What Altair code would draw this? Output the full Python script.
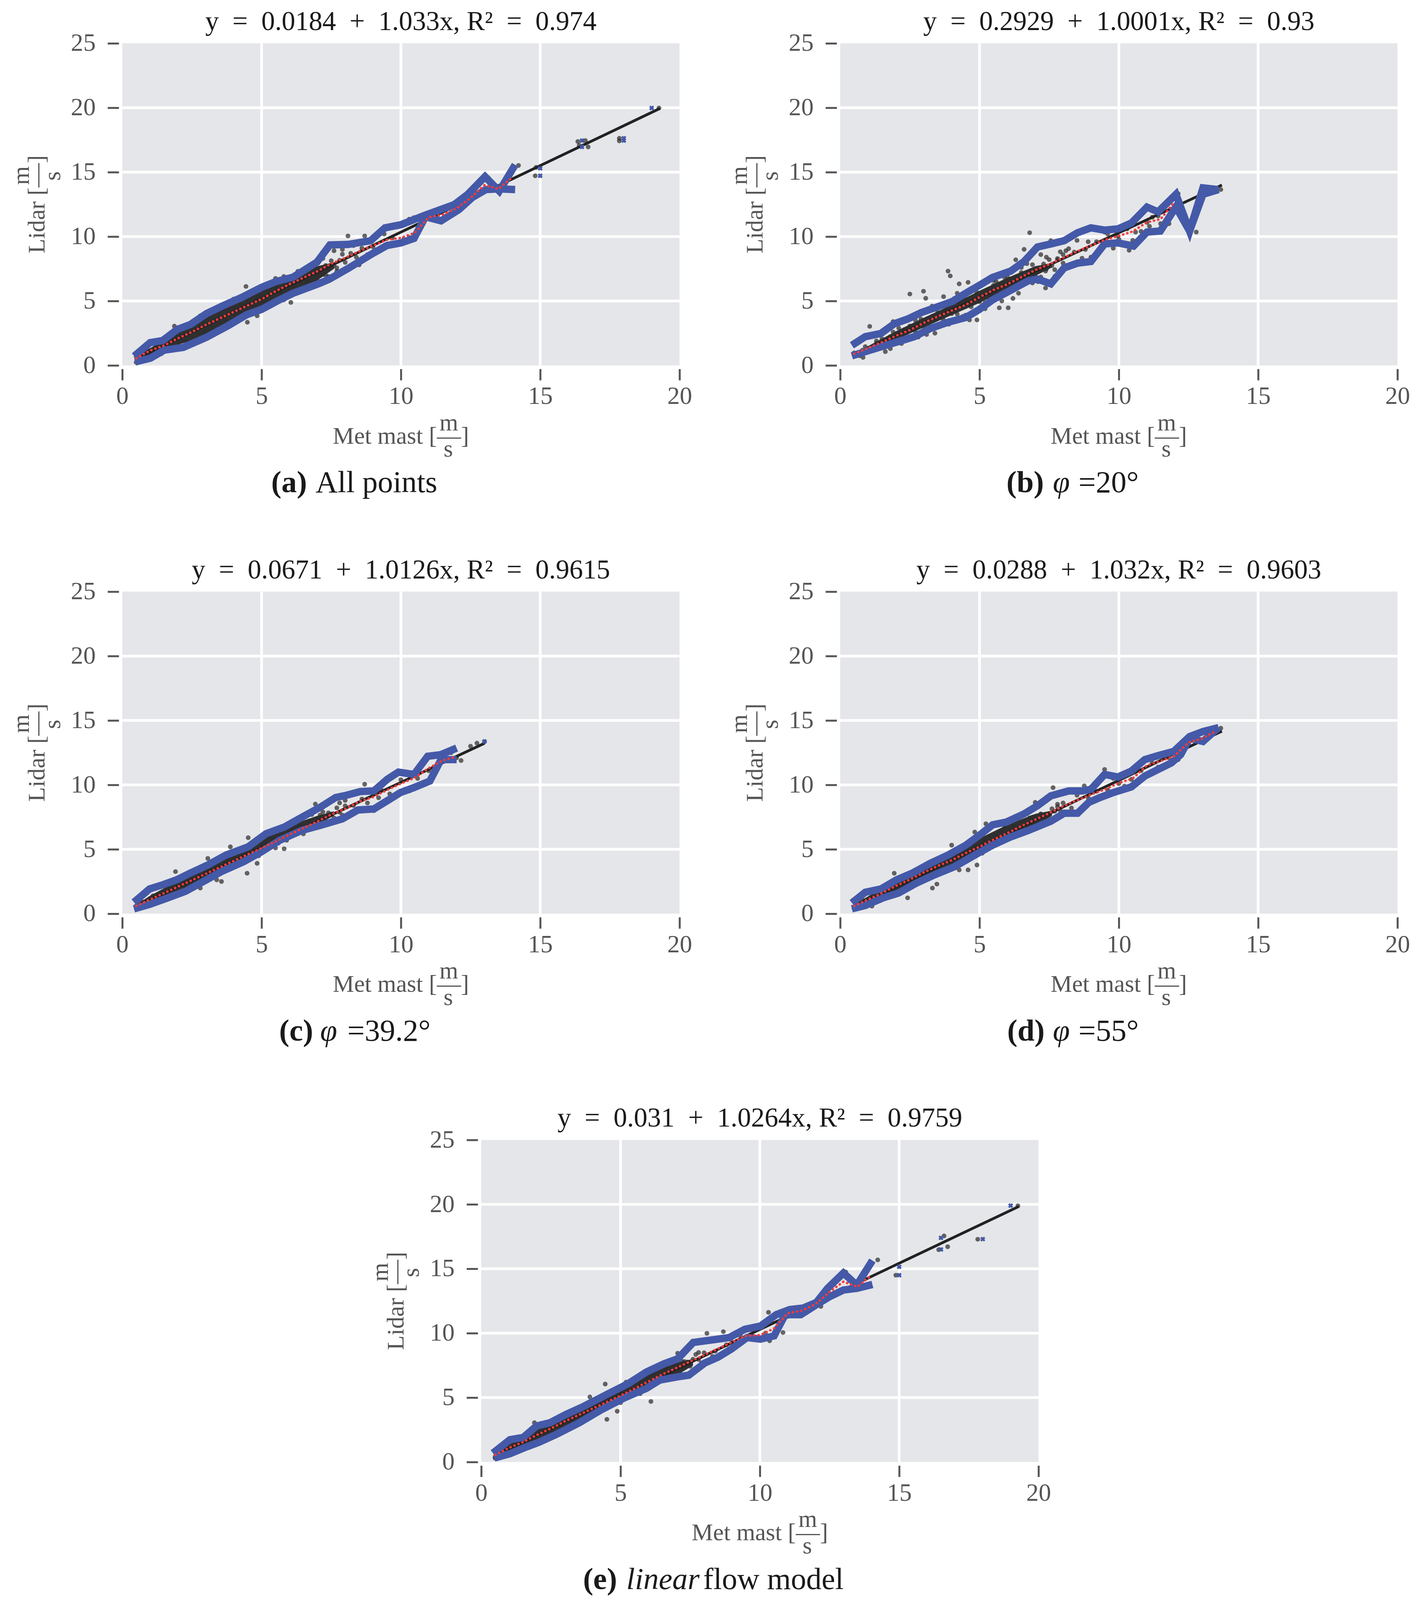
import altair as alt
import pandas as pd

FONT = "Liberation Serif"
BLUE = "#4459a8"
RED = "#f23b3b"
PTC = "#2e2e2e"
CORE_C = "#262626"
TXT = "#1a1a1a"
AX = "#555555"
W, H = 1436, 830

NB = "\u00a0"
EN = "\u2002"
ZW = "\u200b"
X_TITLE = ["m" + NB + "\u2009" + ZW, "Met mast [\u2014]", "s" + NB + NB + "\u2006" + ZW]
Y_TITLE = ["m" + NB + "\u2009" + ZW, "Lidar [\u2014]", "s" + NB + NB + "\u2006" + ZW]

GRID_X = [5, 10, 15]
GRID_Y = [5, 10, 15, 20]

# ---------------- shared x positions ----------------
CORE_X = [0.5, 0.6, 0.7, 0.8, 0.9, 1.0, 1.1, 1.2, 1.3, 1.4, 1.5, 1.6, 1.7, 1.8, 1.9,
          2.0, 2.1, 2.2, 2.3, 2.4, 2.5, 2.6, 2.7, 2.8, 2.9, 3.0, 3.1, 3.2, 3.3, 3.4,
          3.5, 3.6, 3.7, 3.8, 3.9, 4.0, 4.1, 4.2, 4.3, 4.4, 4.5, 4.6, 4.7, 4.8, 4.9,
          5.0, 5.1, 5.2, 5.3, 5.4, 5.5, 5.6, 5.7, 5.8, 5.9, 6.0, 6.1, 6.2, 6.3, 6.4,
          6.5, 6.6, 6.7, 6.8, 6.9, 7.0, 7.1, 7.2, 7.3, 7.4, 7.5, 7.6, 7.7, 7.8, 7.9, 8.0]
BIN_X = [0.5, 1.0, 1.5, 2.0, 2.5, 3.0, 3.5, 4.0, 4.5, 5.0, 5.5, 6.0, 6.5, 7.0,
         7.5, 8.0, 8.5, 9.0, 9.5, 10.0, 10.5, 11.0, 11.5, 12.0, 12.5, 13.0, 13.5, 14.0]
ENV_X = [0.5, 1.0, 2.0, 3.0, 4.0, 5.0, 6.0, 7.0, 7.6]

# ---------------- panel (a) ----------------
A_TITLE = "y" + EN + "=" + EN + "0.0184" + EN + "+" + EN + "1.033x, R\u00b2" + EN + "=" + EN + "0.974"
A_CORE_Y = [0.69, 0.58, 0.56, 0.88, 1.16, 0.92, 1.15, 1.05, 1.47, 1.38, 1.77, 1.59, 1.53, 1.93, 2.26,
            1.90, 2.19, 1.99, 2.54, 2.38, 2.82, 2.62, 2.55, 2.96, 3.31, 2.94, 3.22, 3.02, 3.58, 3.41,
            3.85, 3.66, 3.58, 3.99, 4.35, 3.97, 4.25, 4.06, 4.61, 4.44, 4.92, 4.67, 4.57, 5.04, 5.41,
            4.98, 5.29, 5.06, 5.66, 5.46, 5.97, 5.70, 5.59, 6.07, 6.47, 6.00, 6.32, 6.06, 6.71, 6.48,
            7.03, 6.74, 6.58, 7.11, 7.55, 7.00, 7.35, 7.06, 7.76, 7.50, 8.12, 7.75, 7.57, 8.16, 8.63, 8.00]
A_OUT_X = [14.82, 14.85, 14.22, 16.35, 16.4, 16.62, 16.72, 17.84, 17.84, 19.26, 13.13, 12.24, 12.0,
           11.6, 11.2, 10.47, 10.3, 10.3, 10.3, 10.1, 9.7, 9.4, 8.7, 8.1, 8.6, 8.3, 8.8, 9.0, 8.4,
           8.2, 7.9, 7.6, 7.7, 7.3, 7.0, 7.4, 6.6, 6.9, 6.3, 6.05, 5.8, 5.5, 5.8, 4.84, 4.49, 4.44,
           4.0, 3.8, 3.5, 3.2, 2.8, 2.6, 2.3, 1.87, 1.4, 0.5, 0.5, 1.2, 3.0, 5.2, 5.6, 6.6, 7.2, 8.5]
A_OUT_Y = [14.72, 15.37, 15.52, 17.38, 17.08, 17.45, 16.96, 17.63, 17.43, 19.98, 14.57, 12.59, 12.2,
           11.4, 11.65, 11.47, 11.35, 9.93, 9.68, 9.8, 9.9, 10.2, 10.05, 10.05, 9.1, 9.3, 8.6, 9.2, 8.4,
           8.7, 9.0, 8.9, 7.3, 7.0, 6.6, 6.9, 6.35, 7.95, 7.3, 4.89, 5.09, 6.75, 6.9, 3.85, 3.35, 6.13,
           5.15, 4.7, 2.9, 2.6, 3.85, 1.95, 1.9, 3.05, 0.9, 0.25, 0.9, 1.6, 2.3, 4.6, 5.0, 7.6, 8.3, 7.8]
A_ENV_LO = [0.45, 0.75, 1.6, 2.3, 3.45, 4.45, 5.6, 6.6, 7.5]
A_ENV_HI = [0.7, 1.35, 2.6, 3.9, 4.9, 5.95, 6.7, 7.7, 8.0]
A_UP_X = [0.43, 1.0, 1.45, 1.98, 2.45, 3.02, 3.58, 4.28, 5.0, 5.53, 6.13, 6.99, 7.45, 8.1, 8.91,
          9.43, 10.0, 10.88, 11.92, 12.4, 13.02, 13.53, 14.1]
A_UP_Y = [0.72, 1.77, 1.93, 2.8, 3.18, 4.02, 4.6, 5.27, 6.06, 6.52, 6.85, 8.02, 9.35, 9.39, 9.68,
          10.68, 10.92, 11.67, 12.49, 13.28, 14.65, 13.53, 15.57]
A_LO_X = [0.46, 1.01, 1.5, 2.19, 3.02, 3.81, 4.46, 5.0, 5.58, 6.13, 7.06, 7.42, 8.1, 8.98, 9.5,
          10.0, 10.47, 10.88, 11.44, 12.08, 12.56, 13.05, 13.53, 14.1]
A_LO_Y = [0.27, 0.56, 1.18, 1.4, 2.18, 3.1, 3.93, 4.35, 5.02, 5.6, 6.35, 6.68, 7.52, 8.68, 9.31,
          9.51, 9.86, 11.54, 11.22, 12.09, 13.03, 13.65, 13.7, 13.65]
A_RED = [0.55, 1.15, 1.55, 2.1, 2.6, 3.15, 3.65, 4.15, 4.65, 5.15, 5.75, 6.3, 6.8, 7.3, 7.9, 8.35,
         8.85, 9.3, 9.75, 9.9, 10.3, 11.5, 11.7, 12.2, 13.0, 14.0, 13.7, 14.6]
A_REG_X = [0.5, 19.3]
A_REG_Y = [0.535, 19.95]
A_MK_X = [15.0, 15.0, 16.5, 16.5, 18.0, 18.0, 19.0]
A_MK_Y = [15.3, 14.72, 17.45, 16.96, 17.63, 17.45, 19.98]

# ---------------- panel (b) ----------------
B_TITLE = "y" + EN + "=" + EN + "0.2929" + EN + "+" + EN + "1.0001x, R\u00b2" + EN + "=" + EN + "0.93"
B_CORE_Y = [0.97, 0.83, 0.75, 1.18, 1.46, 1.14, 1.39, 1.22, 1.71, 1.60, 2.06, 1.80, 1.63, 2.23, 2.59,
            2.07, 2.39, 2.09, 2.77, 2.55, 3.06, 2.80, 2.63, 3.23, 3.59, 3.02, 3.39, 2.99, 3.81, 3.53,
            4.12, 3.78, 3.55, 4.25, 4.69, 4.02, 4.39, 3.99, 4.81, 4.53, 5.12, 4.78, 4.55, 5.25, 5.69,
            4.94, 5.39, 4.86, 5.87, 5.48, 6.21, 5.75, 5.43, 6.30, 6.82, 5.94, 6.39, 5.86, 6.87, 6.48,
            7.21, 6.75, 6.43, 7.30, 7.82, 6.94, 7.39, 6.86, 7.87, 7.48, 8.21, 7.75, 7.43, 8.30, 8.82, 7.94]
B_OUT_X = [3.87, 3.95, 2.5, 2.99, 3.07, 1.06, 1.62, 0.82, 6.8, 6.6, 7.37, 7.37, 6.03, 5.71, 4.91,
           4.64, 12.78, 13.26, 13.66, 13.5, 11.01, 10.37, 9.49, 8.68, 8.2, 7.56, 12.13, 11.41, 10.6,
           11.1, 9.97, 4.59, 4.27, 3.71, 8.0, 8.4, 8.8, 9.2, 9.0, 7.8, 7.2, 7.0, 6.9, 6.5, 6.3, 6.0,
           5.6, 5.3, 5.0, 4.4, 3.4, 2.8, 2.2, 1.9, 1.5, 2.4, 3.3, 4.2, 6.2, 7.8, 8.5, 9.3, 10.0, 10.8,
           11.5, 11.3, 10.4,
           1.3, 1.8, 2.1, 2.7, 3.1, 3.6, 3.9, 4.1, 4.5, 4.8, 5.2, 5.5, 5.8, 6.1, 6.4, 6.7, 7.1, 7.4,
           7.7, 8.1, 8.3, 8.9, 9.1, 9.6, 9.8, 10.3, 10.5, 11.2, 11.8, 12.2]
B_OUT_Y = [7.32, 6.95, 5.54, 5.76, 5.21, 3.03, 1.07, 0.62, 10.3, 9.01, 7.32, 6.01, 4.47, 4.47, 3.53,
           3.53, 10.35, 13.78, 13.65, 13.5, 11.1, 8.94, 10.35, 8.32, 9.06, 9.68, 13.33, 11.6, 10.35,
           10.8, 10.05, 6.45, 6.33, 5.34, 8.6, 8.8, 9.0, 9.6, 8.4, 8.2, 8.6, 7.5, 6.4, 7.6, 8.2, 6.9,
           6.5, 6.7, 4.3, 3.8, 2.5, 2.2, 1.7, 3.4, 2.5, 3.5, 4.6, 5.6, 5.2, 7.1, 9.7, 8.9, 9.8, 10.4,
           11.0, 10.4, 9.2,
           1.9, 1.3, 2.9, 3.5, 2.4, 4.6, 3.2, 5.2, 3.9, 5.9, 4.4, 6.6, 5.0, 7.2, 5.6, 7.9, 6.5, 8.4,
           6.9, 8.9, 7.7, 9.6, 8.5, 10.2, 9.1, 10.6, 9.7, 11.5, 11.0, 12.4]
B_ENV_LO = [0.8, 1.05, 2.0, 2.95, 3.9, 4.85, 5.9, 6.95, 7.6]
B_ENV_HI = [1.0, 1.5, 2.65, 3.7, 4.7, 5.8, 6.8, 7.7, 7.95]
B_UP_X = [0.42, 0.9, 1.46, 1.94, 2.42, 2.91, 3.39, 4.03, 4.59, 4.99, 5.47, 6.12, 6.6, 7.08, 7.56,
          8.04, 8.52, 9.0, 9.49, 9.97, 10.45, 11.01, 11.41, 12.05, 12.54, 13.02, 13.58]
B_UP_Y = [1.56, 2.23, 2.48, 3.23, 3.6, 4.1, 4.47, 4.97, 5.71, 6.21, 6.83, 7.32, 8.07, 9.19, 9.43,
          9.68, 10.3, 10.68, 10.5, 10.6, 11.05, 12.29, 11.92, 13.28, 10.43, 13.78, 13.65]
B_LO_X = [0.42, 0.98, 1.54, 2.1, 2.66, 3.23, 3.87, 4.51, 4.99, 5.47, 6.12, 6.76, 7.08, 7.56, 8.04,
          8.52, 9.0, 9.49, 9.97, 10.53, 11.01, 11.49, 12.05, 12.54, 13.02, 13.58]
B_LO_Y = [0.74, 1.12, 1.49, 1.86, 2.23, 2.86, 3.35, 3.72, 4.34, 5.09, 5.83, 6.58, 6.7, 6.33, 7.57,
          7.94, 8.07, 9.43, 9.51, 9.26, 10.35, 10.43, 12.3, 10.43, 13.28, 13.65]
B_RED = [0.9, 1.35, 1.8, 2.3, 2.75, 3.3, 3.8, 4.25, 4.7, 5.3, 5.85, 6.3, 6.85, 7.4, 7.85, 8.35,
         8.85, 9.3, 9.75, 10.05, 10.4, 11.1, 11.35, 12.7]
B_REG_X = [0.5, 13.7]
B_REG_Y = [0.79, 14.0]
B_MK_X = []
B_MK_Y = []

# ---------------- panel (c) ----------------
C_TITLE = "y" + EN + "=" + EN + "0.0671" + EN + "+" + EN + "1.0126x, R\u00b2" + EN + "=" + EN + "0.9615"
C_CORE_Y = [0.61, 0.53, 0.95, 0.84, 0.78, 1.18, 1.39, 1.18, 1.38, 1.63, 1.64, 1.47, 2.04, 1.83, 1.71,
            2.23, 2.49, 2.15, 2.40, 2.70, 2.65, 2.48, 3.05, 2.84, 2.72, 3.25, 3.51, 3.16, 3.41, 3.71,
            3.66, 3.49, 4.06, 3.86, 3.74, 4.26, 4.52, 4.17, 4.42, 4.72, 4.68, 4.49, 5.11, 4.86, 4.72,
            5.29, 5.56, 5.16, 5.43, 5.76, 5.70, 5.48, 6.14, 5.87, 5.70, 6.31, 6.60, 6.17, 6.45, 6.79,
            6.72, 6.45, 7.19, 6.87, 6.67, 7.35, 7.66, 7.16, 7.46, 7.83, 7.73, 7.43, 8.22, 7.88, 7.65, 8.37]
C_OUT_X = [4.52, 3.88, 6.93, 8.7, 9.03, 10.31, 12.16, 4.48, 4.84, 3.56, 2.8, 1.91, 0.98, 12.73,
           9.91, 5.81, 3.07, 3.39, 8.0, 8.3, 8.6, 8.8, 9.3, 9.6, 10.0, 10.6, 11.0, 11.5, 12.0, 7.5,
           7.8, 7.2, 6.5, 6.8, 6.1, 5.5, 5.3, 4.9, 4.2, 3.2, 2.5, 2.2, 1.6, 13.0, 11.8, 10.4, 9.2, 12.5]
C_OUT_Y = [5.9, 5.19, 8.51, 10.05, 8.0, 9.53, 11.89, 3.14, 3.91, 2.5, 1.99, 3.27, 1.99, 13.24,
           11.02, 5.04, 4.29, 2.63, 8.8, 8.4, 8.9, 8.6, 9.6, 9.3, 10.4, 10.5, 11.1, 11.8, 12.1, 7.1,
           8.6, 7.9, 6.2, 7.7, 6.9, 5.1, 6.1, 4.5, 4.8, 2.9, 2.2, 2.9, 1.2, 13.35, 12.5, 10.9, 9.0, 13.0]
C_ENV_LO = [0.5, 0.85, 1.75, 2.7, 3.8, 4.9, 6.0, 6.95, 7.6]
C_ENV_HI = [0.7, 1.4, 2.55, 3.6, 4.7, 5.8, 6.85, 7.6, 7.95]
C_UP_X = [0.42, 0.98, 1.46, 1.95, 2.43, 3.07, 3.72, 4.52, 5.16, 5.81, 6.45, 7.1, 7.66, 8.06, 8.54,
          9.03, 9.51, 9.91, 10.47, 10.96, 11.44, 12.0]
C_UP_Y = [0.89, 1.92, 2.25, 2.63, 3.14, 3.78, 4.55, 5.19, 6.21, 6.72, 7.49, 8.26, 9.02, 9.2, 9.48,
          9.53, 10.43, 10.99, 10.81, 12.22, 12.35, 12.86]
C_LO_X = [0.42, 0.98, 1.63, 2.27, 2.91, 3.56, 4.36, 5.0, 5.65, 6.45, 7.1, 7.9, 8.46, 9.03, 9.51,
          9.99, 10.47, 11.04, 11.44, 12.0]
C_LO_Y = [0.38, 0.72, 1.23, 1.74, 2.5, 3.27, 4.04, 4.81, 5.7, 6.47, 6.85, 7.36, 8.05, 8.13, 8.77,
          9.41, 9.79, 10.3, 11.96, 11.96]
C_RED = [0.6, 1.1, 1.6, 2.1, 2.6, 3.1, 3.6, 4.1, 4.6, 5.1, 5.6, 6.15, 6.65, 7.15, 7.7, 8.15, 8.7,
         9.05, 9.6, 10.1, 10.55, 11.3, 11.9, 12.2]
C_REG_X = [0.5, 13.0]
C_REG_Y = [0.574, 13.23]
C_MK_X = [13.0]
C_MK_Y = [13.37]

# ---------------- panel (d) ----------------
D_TITLE = "y" + EN + "=" + EN + "0.0288" + EN + "+" + EN + "1.032x, R\u00b2" + EN + "=" + EN + "0.9603"
D_CORE_Y = [0.38, 0.79, 0.74, 1.07, 0.88, 0.85, 1.23, 1.42, 1.26, 1.49, 1.36, 1.86, 1.76, 2.16, 1.88,
            1.81, 2.30, 2.52, 2.24, 2.54, 2.36, 2.91, 2.80, 3.22, 2.90, 2.83, 3.33, 3.55, 3.28, 3.57,
            3.39, 3.94, 3.83, 4.25, 3.93, 3.86, 4.36, 4.58, 4.31, 4.60, 4.40, 5.00, 4.86, 5.31, 4.96,
            4.86, 5.40, 5.64, 5.32, 5.63, 5.41, 6.05, 5.89, 6.38, 5.98, 5.86, 6.44, 6.69, 6.34, 6.67,
            6.41, 7.10, 6.91, 7.44, 6.99, 6.86, 7.49, 7.75, 7.35, 7.71, 7.42, 8.15, 7.95, 8.50, 8.01, 7.87]
D_OUT_X = [9.49, 8.76, 7.64, 7.0, 5.23, 4.83, 4.91, 4.59, 4.27, 3.47, 3.31, 2.42, 1.94, 1.14, 12.13,
           13.66, 11.41, 10.45, 4.0, 8.0, 8.3, 8.5, 8.9, 9.2, 9.6, 10.0, 10.8, 11.2, 11.8, 12.5, 13.2,
           7.4, 7.8, 7.2, 6.6, 6.9, 6.2, 5.6, 5.9, 5.1, 4.4, 3.6, 3.0, 2.6, 2.0, 1.5, 10.2, 9.8]
D_OUT_Y = [11.2, 9.92, 9.79, 8.64, 6.98, 6.34, 3.78, 3.4, 3.4, 2.3, 1.99, 1.23, 3.14, 0.59, 11.96,
           14.4, 11.38, 10.43, 5.32, 8.6, 8.2, 9.2, 9.0, 9.5, 9.6, 10.1, 11.1, 11.7, 12.1, 13.1, 13.7,
           7.3, 8.3, 7.7, 6.4, 7.5, 6.9, 5.5, 6.8, 4.7, 4.9, 3.4, 3.5, 2.3, 2.5, 1.2, 9.9, 10.5]
D_ENV_LO = [0.45, 0.85, 1.7, 2.85, 3.75, 4.9, 5.95, 6.95, 7.6]
D_ENV_HI = [0.7, 1.35, 2.5, 3.6, 4.65, 5.85, 6.9, 7.75, 8.0]
D_UP_X = [0.42, 0.9, 1.46, 2.02, 2.58, 3.23, 3.87, 4.51, 4.99, 5.47, 5.96, 6.6, 7.08, 7.56, 8.2,
          8.68, 9.0, 9.49, 9.97, 10.45, 10.93, 11.41, 11.97, 12.54, 13.02, 13.58]
D_UP_Y = [0.84, 1.66, 1.92, 2.63, 3.14, 3.91, 4.55, 5.32, 6.08, 6.9, 7.11, 7.75, 8.38, 9.15, 9.53,
          9.53, 9.66, 10.81, 10.61, 11.07, 11.96, 12.27, 12.6, 13.75, 14.14, 14.45]
D_LO_X = [0.42, 0.9, 1.54, 2.1, 2.74, 3.39, 4.11, 4.83, 5.47, 6.12, 6.76, 7.56, 8.04, 8.52, 8.92,
          9.33, 9.81, 10.45, 10.93, 11.41, 11.89, 12.22, 12.54, 13.02, 13.58]
D_LO_Y = [0.38, 0.64, 1.23, 1.61, 2.38, 3.02, 3.66, 4.55, 5.32, 5.96, 6.47, 7.18, 7.8, 7.8, 8.64,
          9.02, 9.41, 9.84, 10.68, 11.2, 11.71, 12.35, 13.62, 13.37, 14.45]
D_RED = [0.6, 1.1, 1.6, 2.15, 2.65, 3.2, 3.7, 4.15, 4.7, 5.2, 5.75, 6.25, 6.8, 7.3, 7.8, 8.35,
         8.8, 9.25, 9.65, 10.15, 10.5, 11.5, 11.85, 12.25, 13.3, 13.6, 14.2]
D_REG_X = [0.7, 13.7]
D_REG_Y = [0.75, 14.17]
D_MK_X = []
D_MK_Y = []

# ---------------- panel (e) ----------------
E_TITLE = "y" + EN + "=" + EN + "0.031" + EN + "+" + EN + "1.0264x, R\u00b2" + EN + "=" + EN + "0.9759"
E_CORE_Y = [0.40, 0.72, 0.93, 0.81, 0.76, 1.17, 1.17, 1.47, 1.27, 1.54, 1.39, 1.76, 2.03, 1.83, 1.70,
            2.23, 2.21, 2.57, 2.26, 2.59, 2.40, 2.80, 3.08, 2.86, 2.71, 3.27, 3.23, 3.62, 3.28, 3.62,
            3.42, 3.83, 4.11, 3.88, 3.73, 4.30, 4.26, 4.64, 4.31, 4.65, 4.43, 4.86, 5.17, 4.90, 4.73,
            5.34, 5.29, 5.70, 5.32, 5.68, 5.44, 5.90, 6.22, 5.92, 5.73, 6.38, 6.31, 6.76, 6.33, 6.72,
            6.44, 6.94, 7.27, 6.94, 6.71, 7.43, 7.35, 7.82, 7.34, 7.76, 7.43, 7.98, 8.35, 7.96, 7.69, 8.48]
E_OUT_X = [19.26, 14.88, 16.61, 16.74, 16.42, 17.82, 14.23, 13.08, 12.19, 10.31, 10.35, 8.1, 8.69,
           6.09, 4.88, 4.51, 4.45, 1.91, 10.83, 7.05, 8.4, 8.8, 8.3, 9.0, 9.3, 9.7, 10.2, 11.0, 11.6,
           12.5, 13.5, 7.6, 7.8, 7.3, 6.8, 6.6, 6.2, 5.7, 5.5, 5.0, 4.2, 3.5, 2.9, 2.4, 2.1, 1.5, 0.5,
           3.9, 5.2]
E_OUT_Y = [19.89, 14.5, 17.55, 16.71, 16.48, 17.29, 15.69, 14.75, 12.08, 11.62, 9.41, 9.99, 10.12,
           4.7, 3.94, 3.31, 6.05, 3.05, 10.05, 8.44, 8.6, 9.1, 8.2, 9.3, 9.8, 9.9, 10.0, 11.3, 11.8,
           13.0, 13.9, 7.1, 8.5, 7.8, 6.5, 7.3, 6.9, 5.3, 6.2, 4.6, 4.9, 3.2, 2.5, 2.1, 2.9, 1.1, 0.3,
           5.05, 6.2]
E_ENV_LO = [0.45, 0.8, 1.6, 2.7, 3.7, 4.85, 5.85, 6.7, 7.5]
E_ENV_HI = [0.7, 1.35, 2.65, 3.55, 4.6, 5.8, 6.85, 7.7, 8.0]
E_UP_X = [0.42, 1.03, 1.51, 1.99, 2.47, 3.04, 3.68, 4.48, 5.29, 5.93, 6.57, 7.05, 7.61, 8.5, 8.9,
          9.46, 10.02, 10.59, 11.07, 11.55, 12.03, 12.43, 13.0, 13.48, 14.04]
E_UP_Y = [0.69, 1.73, 1.91, 2.8, 3.05, 3.69, 4.32, 5.21, 6.1, 6.99, 7.63, 8.01, 9.28, 9.54, 9.66,
          10.3, 10.55, 11.44, 11.83, 11.95, 12.39, 13.48, 14.67, 13.73, 15.64]
E_LO_X = [0.47, 1.03, 1.59, 2.07, 2.71, 3.52, 4.32, 5.12, 5.93, 6.41, 7.05, 7.45, 8.02, 8.5, 8.98,
          9.54, 10.02, 10.51, 10.91, 11.47, 12.03, 12.51, 13.0, 13.48, 14.04]
E_LO_Y = [0.31, 0.64, 1.14, 1.53, 2.16, 3.05, 4.07, 4.96, 5.72, 6.36, 6.61, 6.74, 7.68, 8.14, 8.77,
          9.66, 9.54, 9.79, 11.44, 11.44, 12.21, 12.84, 13.35, 13.48, 13.78]
E_RED = [0.55, 1.1, 1.55, 2.1, 2.6, 3.15, 3.65, 4.15, 4.65, 5.15, 5.7, 6.25, 6.8, 7.3, 7.8, 8.3,
         8.8, 9.3, 9.8, 9.85, 10.35, 11.55, 11.75, 12.25, 13.2, 14.0, 13.6, 14.5]
E_REG_X = [0.5, 19.3]
E_REG_Y = [0.54, 19.84]
E_MK_X = [19.0, 15.0, 15.0, 16.5, 16.5, 18.0]
E_MK_Y = [19.9, 15.15, 14.5, 17.4, 16.5, 17.3]

# caption pieces: (text, x in px from plot left, align, weight, style)
A_CAP = [("(a)", 476, "right", "bold", "normal"), ("All points", 498, "left", "normal", "normal")]
B_CAP = [("(b)", 525, "right", "bold", "normal"), ("\u03c6", 548, "left", "normal", "italic"),
         ("=20\u00b0", 614, "left", "normal", "normal")]
C_CAP = [("(c)", 492, "right", "bold", "normal"), ("\u03c6", 510, "left", "normal", "italic"),
         ("=39.2\u00b0", 580, "left", "normal", "normal")]
D_CAP = [("(d)", 527, "right", "bold", "normal"), ("\u03c6", 548, "left", "normal", "italic"),
         ("=55\u00b0", 614, "left", "normal", "normal")]
E_CAP = [("(e)", 350, "right", "bold", "normal"), ("linear", 374, "left", "normal", "italic"),
         ("flow model", 572, "left", "normal", "normal")]


def text_layer(t, px, py, al, wt, st, size):
    return alt.Chart(pd.DataFrame({"t": [t]})).mark_text(
        align=al, baseline="alphabetic", font=FONT, fontSize=size, fontWeight=wt,
        fontStyle=st, color=TXT
    ).encode(x=alt.value(px), y=alt.value(py), text="t:N")


def panel(title, core_y, out_x, out_y, env_lo, env_hi, up_x, up_y, lo_x, lo_y, red_y,
          reg_x, reg_y, mk_x, mk_y, cap):
    X = alt.X("x:Q", scale=alt.Scale(domain=[0, 20], nice=False, zero=False),
              axis=alt.Axis(values=[0, 5, 10, 15, 20], title=X_TITLE, grid=False))
    Y = alt.Y("y:Q", scale=alt.Scale(domain=[0, 25], nice=False, zero=False),
              axis=alt.Axis(values=[0, 5, 10, 15, 20, 25], title=Y_TITLE, grid=False))

    gx = pd.DataFrame({"x": GRID_X})
    gy = pd.DataFrame({"y": GRID_Y})
    env = pd.DataFrame({"x": ENV_X, "y": env_lo, "y2": env_hi})
    pts = pd.DataFrame({"x": CORE_X + out_x, "y": core_y + out_y})
    reg = pd.DataFrame({"x": reg_x, "y": reg_y})
    band = pd.DataFrame({"x": up_x + lo_x, "y": up_y + lo_y,
                         "side": ["up"] * len(up_x) + ["lo"] * len(lo_x)})
    red = pd.DataFrame({"x": BIN_X[:len(red_y)], "y": red_y})

    layers = [
        alt.Chart(gx).mark_rule(color="white", strokeWidth=7).encode(x=X),
        alt.Chart(gy).mark_rule(color="white", strokeWidth=7).encode(y=Y),
        alt.Chart(env).mark_area(color=CORE_C, opacity=0.95).encode(x=X, y=Y, y2="y2:Q"),
        alt.Chart(pts).mark_circle(size=150, color=PTC, opacity=0.72).encode(x=X, y=Y),
        alt.Chart(reg).mark_line(color="#222222", strokeWidth=7).encode(x=X, y=Y),
        alt.Chart(band).mark_line(color=BLUE, strokeWidth=19).encode(x=X, y=Y, detail="side:N"),
        alt.Chart(red).mark_line(color=RED, strokeWidth=6, strokeDash=[1, 10], strokeCap="round")
        .encode(x=X, y=Y),
    ]
    if mk_x:
        mk = pd.DataFrame({"x": mk_x, "y": mk_y})
        layers.append(alt.Chart(mk).mark_point(shape="cross", angle=45, filled=True, size=170,
                                               color=BLUE, opacity=1).encode(x=X, y=Y))
    layers.append(text_layer(title, W / 2, -34, "center", "normal", "normal", 70))
    for (t, px, al, wt, st) in cap:
        layers.append(text_layer(t, px, H + 327, al, wt, st, 79))
    return alt.layer(*layers).properties(width=W, height=H)


pa = panel(A_TITLE, A_CORE_Y, A_OUT_X, A_OUT_Y, A_ENV_LO, A_ENV_HI, A_UP_X, A_UP_Y, A_LO_X, A_LO_Y,
           A_RED, A_REG_X, A_REG_Y, A_MK_X, A_MK_Y, A_CAP)
pb = panel(B_TITLE, B_CORE_Y, B_OUT_X, B_OUT_Y, B_ENV_LO, B_ENV_HI, B_UP_X, B_UP_Y, B_LO_X, B_LO_Y,
           B_RED, B_REG_X, B_REG_Y, B_MK_X, B_MK_Y, B_CAP)
pc = panel(C_TITLE, C_CORE_Y, C_OUT_X, C_OUT_Y, C_ENV_LO, C_ENV_HI, C_UP_X, C_UP_Y, C_LO_X, C_LO_Y,
           C_RED, C_REG_X, C_REG_Y, C_MK_X, C_MK_Y, C_CAP)
pd_ = panel(D_TITLE, D_CORE_Y, D_OUT_X, D_OUT_Y, D_ENV_LO, D_ENV_HI, D_UP_X, D_UP_Y, D_LO_X, D_LO_Y,
            D_RED, D_REG_X, D_REG_Y, D_MK_X, D_MK_Y, D_CAP)
pe = panel(E_TITLE, E_CORE_Y, E_OUT_X, E_OUT_Y, E_ENV_LO, E_ENV_HI, E_UP_X, E_UP_Y, E_LO_X, E_LO_Y,
           E_RED, E_REG_X, E_REG_Y, E_MK_X, E_MK_Y, E_CAP)

row1 = alt.hconcat(pa, pb, spacing=91)
row2 = alt.hconcat(pc, pd_, spacing=91)
chart = alt.vconcat(row1, row2, pe, spacing=150, center=True).properties(
    padding={"left": 16, "top": 0, "right": 0, "bottom": 0}
).configure_view(
    fill="#e5e6e9", strokeWidth=0
).configure_axis(
    labelFont=FONT, labelFontSize=64, labelColor=AX, labelFlush=False,
    titleFont=FONT, titleFontSize=62, titleColor=AX, titleFontWeight="normal",
    tickColor=AX, tickWidth=5, tickSize=29, domain=False, offset=9,
).configure_axisX(
    labelPadding=10, titleAlign="right", titleX=893, titleY=158, titleBaseline="alphabetic",
    titleAngle=0, titleLineHeight=34,
).configure_axisY(
    labelPadding=31, titleAlign="right", titleX=-232, titleY=288, titleBaseline="alphabetic",
    titleAngle=270, titleLineHeight=40,
)

chart.save("out.html", embed_options={"renderer": "svg", "actions": False})
